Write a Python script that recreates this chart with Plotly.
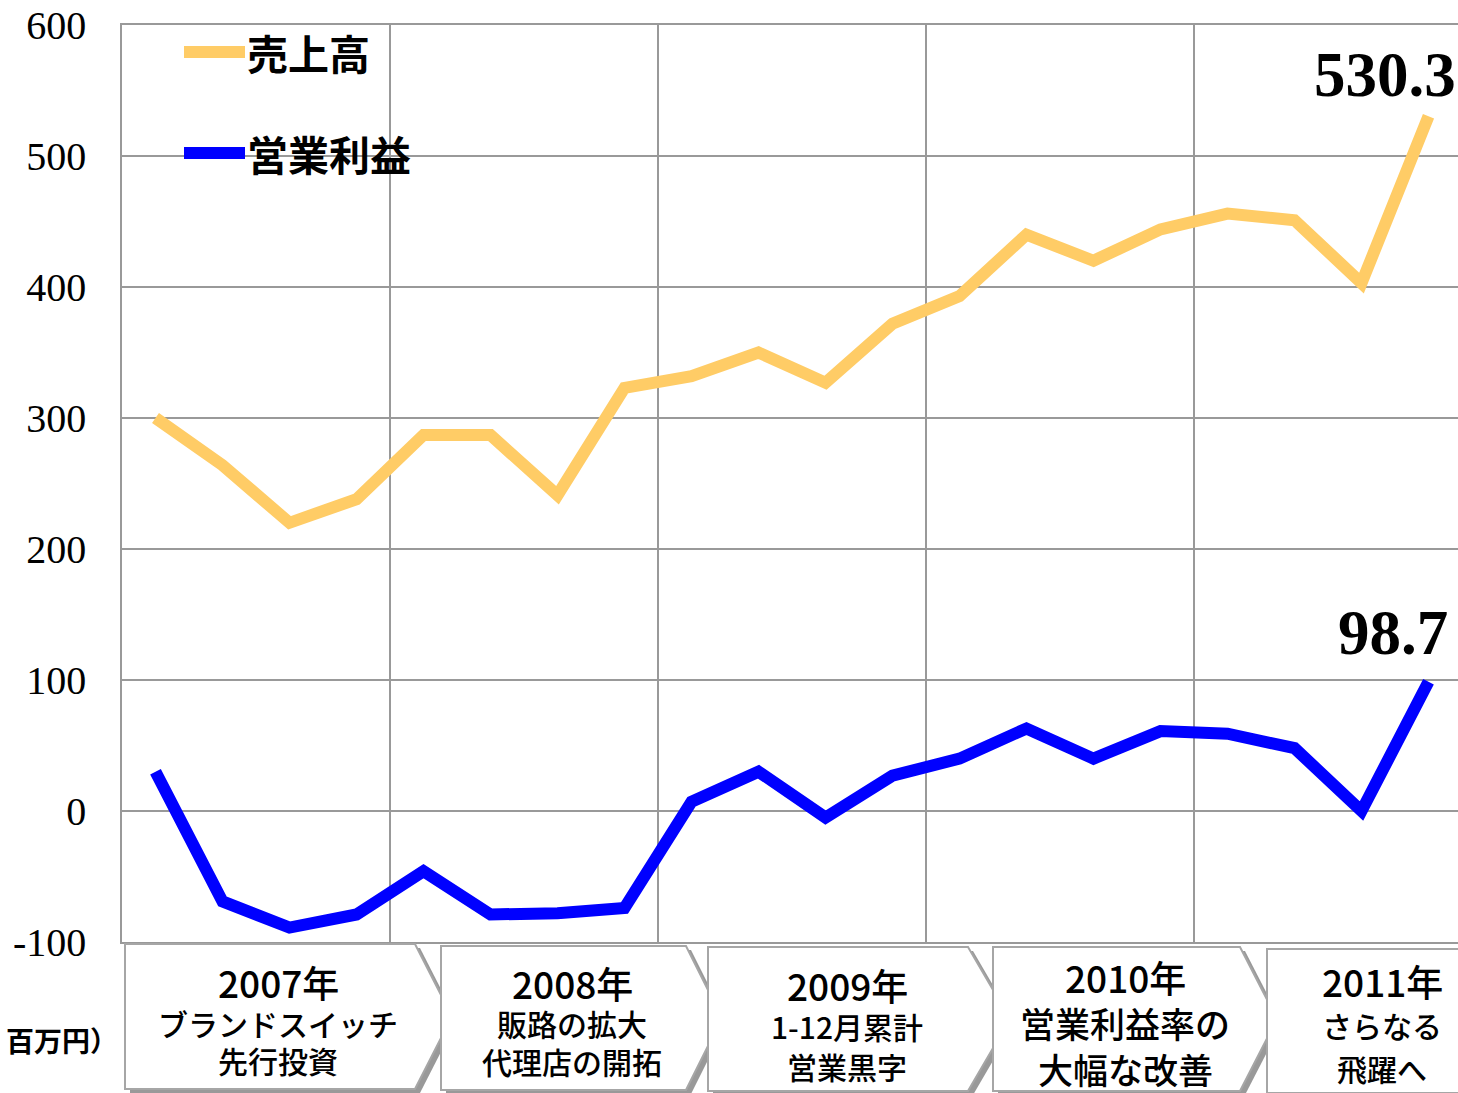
import plotly.graph_objects as go

# ---- data ----
quarters = list(range(20))  # 2007Q1 .. 2011Q4
sales = [300, 264, 220, 238, 287, 287, 241, 323, 332, 350,
         327, 372, 393, 440, 420, 444, 456, 451, 403, 530.3]
op_profit = [30, -69, -89, -79, -46, -79, -78, -74, 7, 30,
             -5, 27, 40, 63, 40, 61, 59, 48, 0, 98.7]
y_ticks = [-100, 0, 100, 200, 300, 400, 500, 600]
series_names = ["売上高", "営業利益"]
series_colors = ["#FFCC66", "#0000FF"]
box_years = ["2007年", "2008年", "2009年", "2010年", "2011年"]
box_lines = [["ブランドスイッチ", "先行投資"],
             ["販路の拡大", "代理店の開拓"],
             ["1-12月累計", "営業黒字"],
             ["営業利益率の", "大幅な改善"],
             ["さらなる", "飛躍へ"]]
unit_label = "百万円）"

W, H = 1458, 1093
PL, PR, PT, PB = 122, 1458, 25, 942  # plot area in pixels
L, R, T, B = PL, W - PR, PT, H - PB
PW, PH = PR - PL, PB - PT
QUARTER_PX = 67  # each quarter is 67 px wide; the chart is cut at the right edge
x_range = [-0.5, -0.5 + PW / QUARTER_PX]


def px(x):
    return (x - PL) / PW


def py(y):
    return (PB - y) / PH


fig = go.Figure()
for name, vals, col in zip(series_names, [sales, op_profit], series_colors):
    fig.add_trace(go.Scatter(x=quarters, y=vals, mode="lines", name=name,
                             line=dict(color=col, width=12), showlegend=False))

shapes = []
annotations = []

# manual legend
for i, (name, col) in enumerate(zip(series_names, series_colors)):
    ly = 52 + i * 101
    shapes.append(dict(type="line", xref="paper", yref="paper",
                       x0=px(184), x1=px(245), y0=py(ly), y1=py(ly),
                       line=dict(color=col, width=12)))
    annotations.append(dict(xref="paper", yref="paper", x=px(245), y=py(ly),
                            text="<b>%s</b>" % name, showarrow=False,
                            xanchor="left", yanchor="middle",
                            font=dict(family="Noto Sans CJK JP", size=41, color="black")))

# end value labels
annotations.append(dict(x=quarters[-1], y=sales[-1], text="<b>%.1f</b>" % sales[-1],
                        showarrow=False, xshift=-44, yshift=41,
                        font=dict(family="Liberation Serif", size=63, color="black")))
annotations.append(dict(x=quarters[-1], y=op_profit[-1], text="<b>%.1f</b>" % op_profit[-1],
                        showarrow=False, xshift=-36, yshift=49,
                        font=dict(family="Liberation Serif", size=63, color="black")))

# chevron boxes (pixel geometry)
boxes = [  # left, top, right-corner, tip, bottom
    (125, 944, 415, 452, 1089),
    (441, 946, 686, 722, 1090),
    (708, 947, 968, 1010, 1091),
    (993, 947, 1240, 1277, 1091),
    (1267, 949, 1470, 1500, 1093),
]
centers = [278, 572, 847, 1125, 1382]
line_y = [(982, 1023, 1060), (983, 1023, 1061), (985, 1026, 1066),
          (977, 1022, 1068), (981, 1025, 1068)]
sub_sizes = [30, 30, 30, 35, 30]


def chevron(l, t, r, tip, b, dx=0, dy=0):
    m = (t + b) / 2
    pts = [(l, t), (r, t), (tip, m), (r, b), (l, b)]
    return "M " + " L ".join("%.5f,%.5f" % (px(x + dx), py(y + dy)) for x, y in pts) + " Z"


for bi, (l, t, r, tip, b) in enumerate(boxes):
    shapes.append(dict(type="path", xref="paper", yref="paper",
                       path=chevron(l, t, r, tip, b, 5, 4),
                       fillcolor="#999999", line=dict(width=0)))
    shapes.append(dict(type="path", xref="paper", yref="paper",
                       path=chevron(l, t, r, tip, b),
                       fillcolor="white", line=dict(color="#A6A6A6", width=2)))
    cx = centers[bi]
    texts = [box_years[bi]] + box_lines[bi]
    sizes = [37, sub_sizes[bi], sub_sizes[bi]]
    for txt, yy, sz in zip(texts, line_y[bi], sizes):
        annotations.append(dict(xref="paper", yref="paper", x=px(cx), y=py(yy),
                                text=txt, showarrow=False, xanchor="center", yanchor="middle",
                                font=dict(family="Noto Sans CJK JP", size=sz, color="black",
                                          weight=500)))

annotations.append(dict(xref="paper", yref="paper", x=px(4), y=py(1040),
                        text="<b>%s</b>" % unit_label, showarrow=False,
                        xanchor="left", yanchor="middle",
                        font=dict(family="Noto Sans CJK JP", size=28, color="black")))

fig.update_layout(
    width=W, height=H,
    margin=dict(l=L, r=R, t=T, b=B, autoexpand=False),
    paper_bgcolor="white", plot_bgcolor="white",
    showlegend=False,
    shapes=shapes, annotations=annotations,
    xaxis=dict(range=x_range, tickvals=[3.5, 7.5, 11.5, 15.5],
               showticklabels=False, showgrid=True, gridcolor="#999999", gridwidth=1.5,
               zeroline=False, showline=True, linecolor="#999999", linewidth=1.5, mirror=True),
    yaxis=dict(range=[-100, 600], tickvals=y_ticks, ticktext=[str(v) for v in y_ticks],
               showgrid=True, gridcolor="#999999", gridwidth=1.5, zeroline=False,
               showline=True, linecolor="#999999", linewidth=1.5, mirror=True,
               ticklabelstandoff=26, ticklabeloverflow="allow",
               tickfont=dict(family="Liberation Serif", size=40, color="black")),
)

fig.write_html("out.html", config={"displayModeBar": False},
               post_script="document.body.style.margin='0';document.body.style.overflow='hidden';")
